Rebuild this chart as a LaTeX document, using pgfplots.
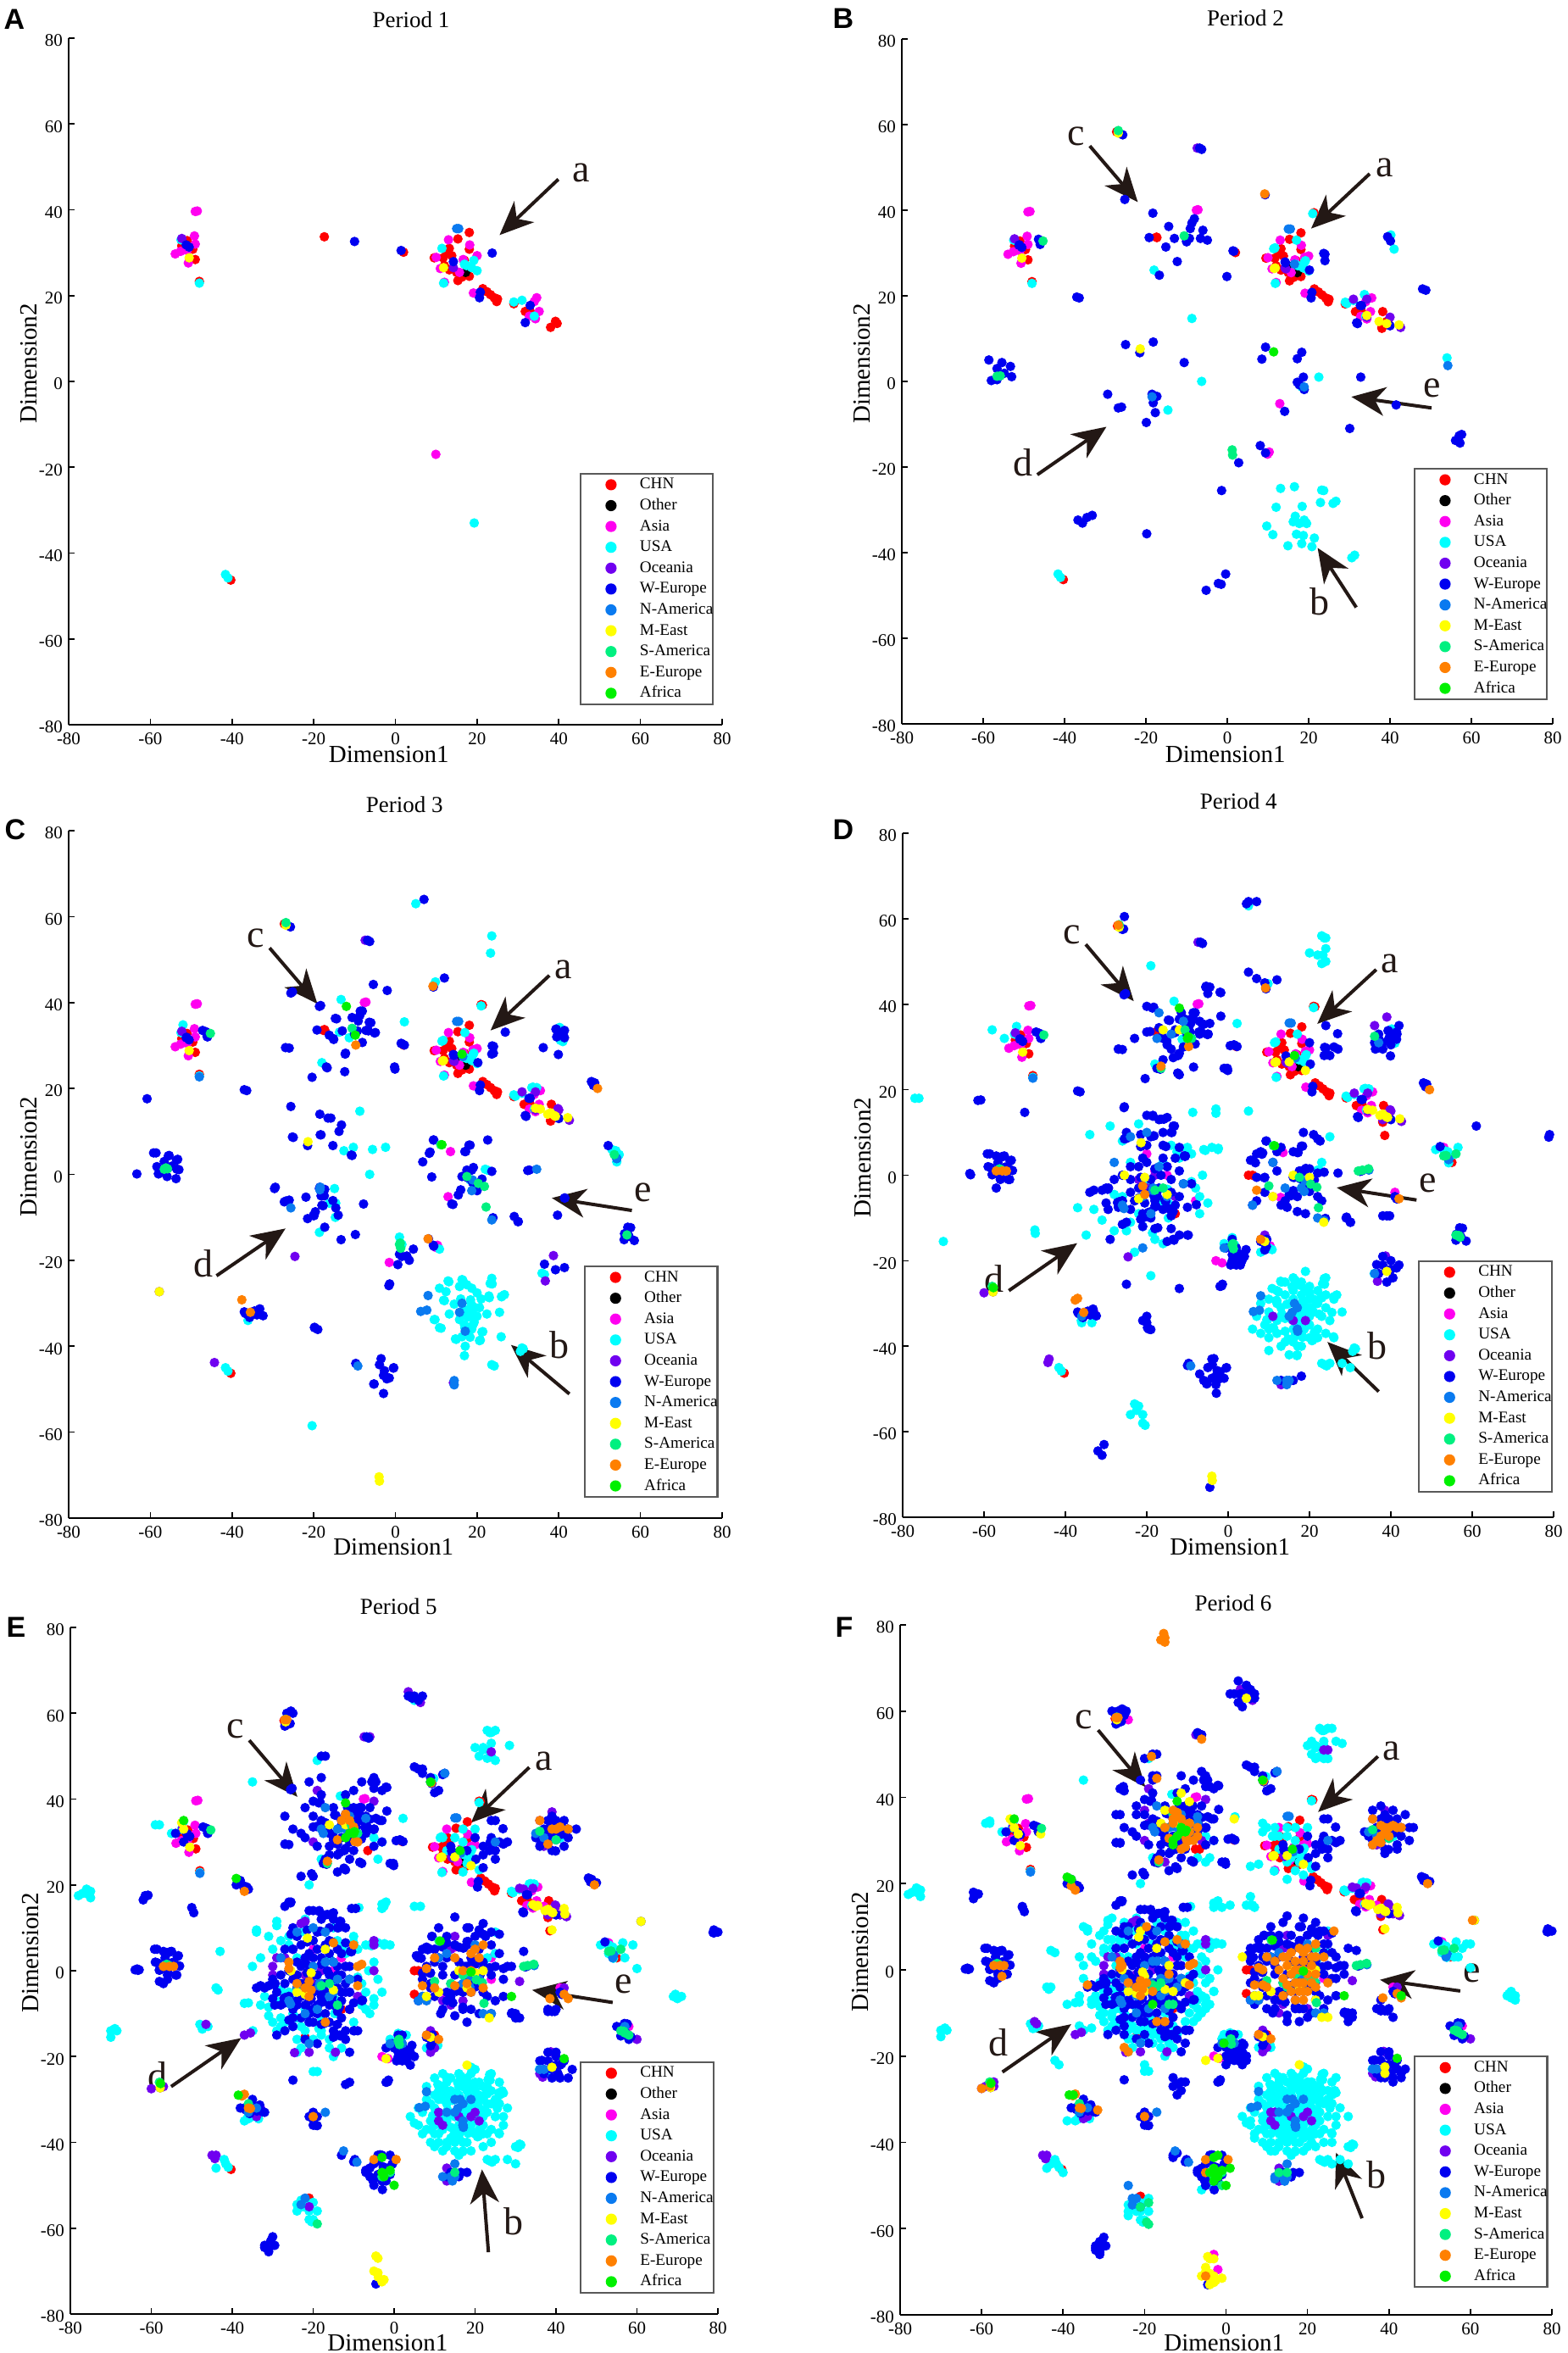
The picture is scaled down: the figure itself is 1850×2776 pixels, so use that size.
\documentclass[border=0pt]{standalone}
\usepackage{fontspec}
\setmainfont{Liberation Serif}
\newfontfamily\panelfont{Liberation Sans}
\usepackage{pgfplots}
\usepackage{pgfplotstable}
\pgfplotsset{compat=1.18}
\usetikzlibrary{arrows.meta}

\definecolor{cCHN}{HTML}{FF0000}
\definecolor{cOther}{HTML}{000000}
\definecolor{cAsia}{HTML}{FF00F0}
\definecolor{cUSA}{HTML}{00FFFF}
\definecolor{cOce}{HTML}{7000F0}
\definecolor{cWE}{HTML}{0000F0}
\definecolor{cNA}{HTML}{0A7AF0}
\definecolor{cME}{HTML}{FFFF00}
\definecolor{cSA}{HTML}{00F080}
\definecolor{cEE}{HTML}{FF8000}
\definecolor{cAf}{HTML}{00F000}
\definecolor{cAnno}{HTML}{231815}

% x y, p = first period in which the paper appears
\pgfplotstableread[row sep=\\]{x y p\\
-17.4 33.7 1\\2 30.1 1\\18.1 34.7 1\\15.3 33.2 1\\9.5 28.8 1\\11.7 28.8 1\\12.6 30 1\\13.2 31 1\\13.8 29.3 1\\12 27 1\\13.2 26 1\\15 25.4 1\\15.3 23.5 1\\18.1 24.5 1\\18.1 30.8 1\\16.3 24.3 1\\16.9 28.2 1\\
21.4 21.6 1\\22.4 20.9 1\\23.3 20.2 1\\24.2 19.5 1\\24.8 18.6 1\\25 19.2 1\\31.8 16.3 1\\29 18.1 1\\33 16.3 1\\39.2 14 1\\39.6 13.5 1\\38 12.6 1\\-49.6 30.8 1\\-52.3 31.6 1\\-51 32.8 1\\-49 28.4 1\\-48 23.3 1\\-50.5 31 1\\-40.3 -46.3 1\\
-17.3 33.6 2\\31.5 16.3 2\\38.2 16.3 2\\38 12.4 2\\21.3 39.4 2\\-27.2 58.3 2\\
21 39.5 3\\-17.6 33.5 3\\
5 0 4\\6 0 4\\-13 -9 4\\38.5 9.3 4\\55 3 4\\
-22 -15.5 5\\-6.5 28 5\\5 -5.5 5\\-21 -53 5\\-11 -9 5\\10 -15 5\\
-21 -16 6\\-7.5 28 6\\-21 -52.5 6\\
}\tCHN
\pgfplotstableread[row sep=\\]{x y p\\
17.2 25.4 1\\15 27 2\\
}\tOther
\pgfplotstableread[row sep=\\]{x y p\\
-49 39.6 1\\-48.5 39.7 1\\-49.2 33.9 1\\-49 32 1\\-53.9 29.7 1\\-52.6 30.3 1\\-50.7 27.6 1\\-51 30.5 1\\9.9 -17 1\\13 33 1\\18.2 31.8 1\\10 28.9 1\\20 29.3 1\\11 26.3 1\\16.6 28.4 1\\15.7 25.4 1\\19.1 20.6 1\\34.6 19.5 1\\34 18.6 1\\35.2 16.3 1\\34.3 14.6 1\\32.8 15.2 1\\12 23.1 1\\
-7.6 40 2\\-7.2 40.1 2\\12.9 -5.2 2\\35.5 19.5 2\\10.3 -16.5 2\\19 29 2\\
13.5 5.3 3\\-1.5 -20.5 3\\
-20 5 4\\-12 6 4\\-18 1 4\\-3 -20 4\\41 -4 4\\-8 -6 4\\-15 0 4\\11 -5 4\\53 6.5 4\\
24 3 5\\24 -2 5\\15 5.5 5\\-13 3 5\\37 15 5\\58 -13 5\\
-3 -66 6\\-2 -69.5 6\\-24 58 6\\
}\tAsia
\pgfplotstableread[row sep=\\]{x y p\\
-48 22.9 1\\11.4 31 1\\19.2 28.2 1\\16.9 27.3 1\\17.4 27 1\\18.7 26.5 1\\20 25.8 1\\11.8 22.9 1\\29 18.5 1\\31 18.9 1\\34 15.2 1\\-41.6 -45 1\\-41 -45.8 1\\19.3 -33 1\\-52.5 33 1\\
-18 26 2\\-8.7 14.7 2\\-6.3 0 2\\-14.6 -6.7 2\\22.5 1 2\\17 33 2\\11.7 31.2 2\\21 39.2 2\\40.2 34.2 2\\41 30.9 2\\33.7 20.3 2\\29.4 18.2 2\\54 5.5 2\\18.3 -1.3 2\\18.9 27.7 2\\
13.1 -25 2\\16.5 -24.6 2\\23.2 -25.4 2\\23.7 -25.5 2\\22.9 -28.3 2\\26 -28.5 2\\26.7 -28 2\\18.4 -29.2 2\\12 -29.4 2\\16.7 -31.5 2\\16.2 -32.8 2\\18.9 -32.4 2\\17.7 -33.2 2\\19.5 -33.2 2\\9.7 -33.8 2\\11.2 -35.8 2\\17 -35.7 2\\18.7 -36 2\\21.4 -36.6 2\\18.3 -37.9 2\\14.9 -38.4 2\\20.8 -38.6 2\\30.6 -41.2 2\\31.3 -40.6 2\\
5 63 3\\23.6 55.5 3\\23.3 51.5 3\\9.8 44.8 3\\2.2 35.5 3\\-13.3 40.7 3\\-13.7 33.1 3\\-11.3 31.8 3\\-12.6 5.5 3\\-10.3 6.3 3\\-5.6 5.8 3\\-2.4 6.3 3\\-14.9 -3.3 3\\-16.2 -6.7 3\\-14.7 -10 3\\-18.6 -13.5 3\\-52 34.8 3\\40.4 31.2 3\\33.4 20.2 3\\34.6 20.2 3\\35.9 -23 3\\36.5 -23.3 3\\1 -14.6 3\\1.6 -16.3 3\\10.8 -17.4 3\\53 5.8 3\\54.8 4.6 3\\54.2 2.9 3\\22 1.2 3\\-20.4 -58.5 3\\-36.1 -34 3\\31 -40.4 3\\23.6 -44.3 3\\24.2 -44.6 3\\
12.9 -24.8 3\\16.3 -24.5 3\\17.5 -25.7 3\\23.6 -24.2 3\\10.8 -26.5 3\\12.4 -27.3 3\\15.7 -26.1 3\\18.7 -26.5 3\\20 -27.6 3\\23 -28.7 3\\26 -28.4 3\\11.8 -29.3 3\\14.4 -30.2 3\\20.6 -31 3\\22.4 -32.5 3\\25.5 -32.1 3\\13.2 -32.5 3\\9.5 -33.8 3\\15.7 -33.8 3\\17.5 -31.6 3\\18.7 -32.7 3\\19.3 -34.4 3\\16.9 -35 3\\18.1 -36.1 3\\21.2 -36.7 3\\10.8 -35.7 3\\14.7 -38.3 3\\16.3 -37.8 3\\20.6 -38.7 3\\25.9 -37.8 3\\17.1 -40 3\\16.9 -42.2 3\\18.5 -30 3\\19.5 -31 3\\18 -33 3\\20 -33 3\\19 -35 3\\17 -32 3\\21 -29 3\\16 -29 3\\
-77 18 4\\-76 18 4\\-70 -15.5 4\\-58 34 4\\-55 32 4\\-47.5 -12.8 4\\-47.4 -13.6 4\\-34.9 -14 4\\-37 -7.6 4\\-33 -8 4\\-31 -10.5 4\\-28 -13 4\\-25 -13 4\\-34 9.5 4\\-29 11.5 4\\-26 8 4\\-22 12 4\\-23 -18 4\\-19 -23.5 4\\-21 -12 4\\-18 -15 4\\-16 -16 4\\-22 -9 4\\-14 7 4\\-10 6.5 4\\-9 5 4\\-6 6 4\\-4 6.5 4\\-2.5 6 4\\-3 15.5 4\\-3 14.5 4\\5 15 4\\-9 -1.5 4\\-8 -3 4\\-7 -5 4\\-5 -6.5 4\\-7 -9 4\\-24 -11 4\\-26 -5 4\\-28 -4.5 4\\-20 -2 4\\-16 3 4\\-24 3 4\\-12 4 4\\-19 49 4\\-22.5 -55 4\\-24 -56 4\\-22 -54 4\\-21 -56 4\\-21 -58 4\\-23 -53.5 4\\20 52 4\\23 56 4\\24 55.5 4\\23 49.5 4\\24 50 4\\24 53 4\\22 51.5 4\\25 9 4\\23 3 4\\51 6 4\\56.5 6.5 4\\-33.5 -34.5 4\\-36 -34.5 4\\8 -18 4\\10 -17 4\\-1 -16 4\\28 -44 4\\30 -45 4\\23 -44 4\\25 -44 4\\
10 -29 4\\12 -27 4\\14 -25 4\\16 -24 4\\18 -25 4\\20 -26 4\\22 -27 4\\24 -28 4\\26 -29 4\\19 -22.5 4\\24 -24 4\\8 -30 4\\10 -32 4\\12 -30 4\\14 -28 4\\16 -27 4\\18 -28 4\\20 -29 4\\22 -30 4\\24 -31 4\\7 -33 4\\9 -35 4\\11 -33 4\\13 -31 4\\15 -30 4\\17 -30.5 4\\19 -31 4\\21 -32 4\\23 -33 4\\25 -34 4\\6 -36 4\\8 -37 4\\10 -36 4\\12 -34 4\\14 -33.5 4\\16 -33 4\\18 -34 4\\20 -35 4\\22 -36 4\\24 -37 4\\10 -38 4\\12 -37 4\\14 -36.5 4\\16 -36 4\\18 -37 4\\20 -38 4\\22 -38 4\\14 -39 4\\16 -39 4\\18 -40 4\\15 -42 4\\17 -42 4\\10 -41 4\\26 -38 4\\13 -40 4\\28 -32 4\\
-35 44 5\\-75 17 5\\-76 19 5\\-78 17.5 5\\-75 18.5 5\\-59 34 5\\-69 -13.5 5\\-70 -14 5\\-68.5 -14 5\\-48 -12.5 5\\-46 -13 5\\-44 -4 5\\-43.5 -4.5 5\\-43 4.5 5\\-36 -7.5 5\\-35 1 5\\-34 9 5\\-31 8 5\\-29 10.5 5\\-21 20 5\\-24 -19 5\\-20 -23.5 5\\-2 16 5\\-2.5 15 5\\6.5 15 5\\-1 6 5\\-27 -12 5\\-30 -12 5\\-31 -8.5 5\\-25 -10 5\\-22 -14 5\\-13 -18 5\\-3 -5 5\\-10 -12 5\\-15 -20 5\\-23 -13 5\\-18 -14 5\\
25 56 5\\22 52 5\\28.5 52.5 5\\25 49 5\\21 50 5\\-5 31 5\\-3 30 5\\-4 26 5\\12 31 5\\15 31 5\\17 30 5\\13 28 5\\18 25 5\\21 23.5 5\\17 23 5\\20 33 5\\25 4 5\\53 6 5\\56 5 5\\59 6 5\\57 3 5\\53 4 5\\60 0.5 5\\69 -6 5\\70 -6.5 5\\71 -6 5\\69.5 -5.5 5\\-24 -54.5 5\\-20 -54 5\\-19 -56 5\\-20 -58 5\\-37 -35 5\\-35 -34 5\\-44 -46 5\\-42 -44 5\\30 -41 5\\3 -15 5\\37.5 -24 5\\
4 -34 5\\6 -32 5\\8 -27 5\\10 -25 5\\12 -24 5\\20 -23 5\\26 -26 5\\27 -28.5 5\\26 -31 5\\27 -34 5\\27 -36 5\\24 -40 5\\22 -41 5\\19 -42 5\\16 -43 5\\12 -42 5\\9 -40 5\\7 -38 5\\5 -35.5 5\\
11 -28 5\\13 -26 5\\15 -28.5 5\\17 -27 5\\19 -24 5\\21 -26 5\\23 -27 5\\25 -30 5\\9 -31 5\\11 -30 5\\13 -29 5\\15 -34 5\\17 -34 5\\19 -36 5\\21 -30 5\\23 -31 5\\9 -37 5\\11 -38 5\\13 -35 5\\15 -37 5\\17 -40 5\\19 -37 5\\21 -34 5\\22 -34 5\\23 -38 5\\13 -41 5\\15 -40 5\\11 -40 5\\
-28 7 5\\-33 3 5\\-30 5 5\\-26 6 5\\-23 9 5\\-15 10 5\\-10 8 5\\-7 6 5\\-5 2 5\\-4 -2 5\\-5 -8 5\\-8 -8 5\\-6 -10 5\\-32 -6 5\\-29 -7 5\\-25 -7 5\\-18 -11 5\\-14 -15 5\\-20 -16 5\\-16 -18 5\\-24 -16 5\\-28 -11 5\\-29 -14 5\\
-35 -2 6\\-36 3 6\\-33 6 6\\-30 9 6\\-28 12 6\\-25 11 6\\-14 11 6\\-10 11 6\\-8 9 6\\-4 5 6\\-2 0 6\\-3 -5 6\\-5 -9 6\\-7 -11 6\\-10 -14 6\\-14 -17 6\\-18 -17 6\\-23 -16 6\\-27 -13.5 6\\-30 -10 6\\-33 -7 6\\-36 -6 6\\-32 2 6\\-31 -3 6\\-28 5 6\\-26 7 6\\-30 4 6\\-29 -2 6\\-27 -6 6\\-27 -9 6\\-24 -12 6\\-21 -14 6\\-17 -15 6\\-13 -13 6\\-9 -10 6\\-7 -7 6\\-5 -3 6\\-7 1 6\\-8 5 6\\-11 8 6\\-15 9 6\\-20 8 6\\-24 7 6\\-35 10 6\\-20 -22 6\\-42 -21 6\\-41 -22 6\\-42 4 6\\-43 -4 6\\-36 -13 6\\-33 -13.5 6\\-39 -8 6\\-47 -13.5 6\\-58 34.5 6\\6 17 6\\6 15 6\\7 14.5 6\\-1 14.5 6\\1 15 6\\10 33 6\\9 34 6\\9 32 6\\6 24 6\\8 24.5 6\\15 21 6\\19 22 6\\
-32 -7 6\\-30 -5 6\\-28 -10 6\\-26 -9 6\\-25 -15 6\\-28 -2 6\\-26 3 6\\-29 7 6\\-25 9 6\\-21 10 6\\-17 11 6\\-12 11 6\\-6 3 6\\-6 -1 6\\-4 -2 6\\-6 -6 6\\-4 -8 6\\-8 -12 6\\-12 -15 6\\-15 -14 6\\-20 -13 6\\-24 -14 6\\-19 -11 6\\-15 -10 6\\-11 -9 6\\-9 -6 6\\-8 -1 6\\-10 3 6\\-13 7 6\\-18 6 6\\-22 6 6\\-27 1 6\\-24 -2 6\\-24 -7 6\\-21 -5 6\\
21 53 6\\26 56 6\\24 49 6\\27 53 6\\24 52 6\\22 49 6\\55 4 6\\58 5 6\\56 3 6\\60 6 6\\71 -7 6\\70 -5 6\\-22 -56 6\\-19 -53 6\\-24 -57 6\\-21 -54 6\\-3 -50.5 6\\-6 -51 6\\-43 -45 6\\-40 -47 6\\-39 -35 6\\-0.5 -15 6\\-0.5 -16 6\\11 -18 6\\30 -34 6\\26 -40 6\\26 -45 6\\6 -35 6\\7 -39 6\\11 -42 6\\20 -41 6\\25 -28 6\\27 -25 6\\13 -27 6\\15 -26 6\\17 -25 6\\19 -27 6\\21 -28 6\\23 -30 6\\11 -31 6\\13 -32 6\\15 -32 6\\17 -32 6\\19 -33 6\\21 -33 6\\23 -35 6\\11 -36 6\\13 -38 6\\15 -38 6\\17 -38 6\\19 -39 6\\21 -40 6\\9 -34 6\\15 -35 6\\19 -29 6\\20 -31 6\\16 -28 6\\18 -26 6\\15 25 6\\13 31 6\\15 33 6\\18 28 6\\16 26 6\\20 25 6\\12 33 6\\-7 26 6\\-5 25 6\\
}\tUSA
\pgfplotstableread[row sep=\\]{x y p\\
-52.3 33.3 1\\14.2 26.5 1\\
31 19.2 2\\34.3 19.2 2\\40 15 2\\42.6 12.6 2\\34.3 15 2\\14.4 26.3 2\\-7.4 54.5 2\\
-24.6 -19.1 3\\-44.3 -43.8 3\\38.7 -18.9 3\\36.7 -24.8 3\\-57.8 -27.3 3\\14.2 -48.5 3\\39.8 15.3 3\\
-44 -43 4\\-60 -27.5 4\\-33 -32 4\\11 -33 4\\16 -34 4\\19 -34 4\\-13 -5 4\\13 -49 4\\9 -14 4\\39 37 4\\36 35 4\\38 13 4\\-18 0 4\\-15 2 4\\-20 -3 4\\-22 -1 4\\
3.5 65 5\\6.5 62.5 5\\24 51 5\\-19 42 5\\-5 39.5 5\\-20 30 5\\-9 -6 5\\-11 -5 5\\-23 11 5\\-22 11.5 5\\-5 7 5\\-5 6 5\\-30 1 5\\-30 -1 5\\-29 3 5\\-5 0 5\\-21 -19 5\\-14.5 -19 5\\-25 5 5\\-27 3 5\\-12 1 5\\-37 -15 5\\-35.5 -14.5 5\\-46.5 -12.5 5\\-45 -43 5\\-57 -27 5\\-34 -34 5\\10 -18 5\\9 -19 5\\9 -14.5 5\\11 -35 5\\12 -36 5\\20 -33 5\\21 -35 5\\17 -36 5\\13 -46 5\\36 -24 5\\15 8 5\\10 5 5\\14 5 5\\12 -7 5\\14 -8 5\\17 -7 5\\19 -3 5\\31 -2.5 5\\60 -16 5\\42 -4 5\\32 19 5\\41 13 5\\37 29 5\\-6 54.5 5\\-21 -55 5\\
-19 34 6\\-15 25 6\\-20 37 6\\-6 30 6\\10 -6 6\\13 -10 6\\20 -9 6\\8 -7 6\\25 8 6\\-57 -26 6\\-59 -27 6\\-47 -12 6\\-35 -34.5 6\\12 -33 6\\25 51 6\\
}\tOce
\pgfplotstableread[row sep=\\]{x y p\\
-10 32.6 1\\1.4 30.5 1\\23.7 29.9 1\\14.2 27.9 1\\20.8 20.8 1\\20.6 19.5 1\\33 17.7 1\\31.8 13.7 1\\-51.2 31.8 1\\-50.5 31.3 1\\
-25.2 42.5 2\\-18.3 39.3 2\\-14.4 36.2 2\\-19.2 33.6 2\\-13 33.4 2\\-15.1 31.4 2\\-12.3 28 2\\-16.7 24.8 2\\-8.7 37 2\\-8.1 38 2\\-9.1 35.7 2\\-9.3 33.4 2\\-6.6 33.4 2\\-6 35.3 2\\-4.9 33 2\\-10 32.8 2\\-25.7 57.6 2\\-6.8 54.5 2\\-6.3 54.2 2\\-0.1 24.5 2\\1.6 30.4 2\\-37 19.7 2\\-36.4 19.5 2\\14.3 27.7 2\\24 29.7 2\\24 28.2 2\\20.2 26 2\\39.4 33.8 2\\40.1 32.8 2\\48 21.6 2\\48.8 21.3 2\\32.7 17.7 2\\32 13.5 2\\40 13 2\\9.3 43.6 2\\
-58.6 5 2\\-55.4 4.4 2\\-56.6 3 2\\-53.3 3.5 2\\-53 1.1 2\\-58 0.2 2\\-56.6 0.4 2\\-54.8 1.9 2\\-51.1 31.9 2\\-46.4 33.2 2\\-46 32 2\\-25 8.6 2\\-21.5 6.7 2\\-18.2 9.2 2\\-10.6 4.4 2\\-29.4 -3 2\\-26.8 -6.2 2\\-26 -6 2\\-18.5 -3 2\\-17.3 -3.5 2\\-18.2 -5 2\\-17.7 -7.3 2\\-19.9 -9.6 2\\9.4 8 2\\8.5 5.2 2\\18.3 6.8 2\\17.2 5.3 2\\32.8 1 2\\17.2 -0.2 2\\18.7 1 2\\17.7 -0.8 2\\18.9 -1.9 2\\14.1 -7 2\\41.5 -5.5 2\\30.1 -11 2\\57 -12.7 2\\57.6 -12.4 2\\56.1 -13.8 2\\57.2 -14.4 2\\8.1 -15 2\\9.4 -16.7 2\\2.8 -19 2\\-1.4 -25.5 2\\-36.7 -32.4 2\\-35.6 -33.1 2\\-34.5 -31.8 2\\-33.2 -31.3 2\\-19.8 -35.6 2\\-5.2 -48.8 2\\-2.2 -47.2 2\\-1.5 -47.4 2\\-0.4 -45 2\\
7 64 3\\12 45.7 3\\-2 42.8 3\\-5.4 44.2 3\\-18.6 39.1 3\\-25.6 42.2 3\\-14.7 36.3 3\\-10.6 36.5 3\\-8.6 38 3\\-6.4 35.4 3\\-7.2 33.5 3\\-5.1 32.9 3\\-15.2 31.6 3\\-16.2 32.4 3\\-8.1 30.7 3\\-26 29.4 3\\-26.9 29.5 3\\-12.2 28.2 3\\-16.9 25 3\\-20.4 22.6 3\\-12.4 23.9 3\\2.2 30.1 3\\-0.2 25 3\\-25.6 15.8 3\\-18.5 14 3\\-16.5 13.1 3\\-15.8 13.1 3\\-13.2 11.5 3\\-13.8 10 3\\-18.4 9.2 3\\-25.2 8.7 3\\-15.3 6.7 3\\-10.8 4.5 3\\-60.8 17.6 3\\-63.3 0.1 3\\-59.2 5 3\\-55.6 4.3 3\\-53.6 3.3 3\\-58.4 1.8 3\\-58 0.1 3\\-55.9 -0.5 3\\-53.7 -1 3\\-53.5 1.2 3\\
-29.6 -3.3 3\\-27.2 -6.4 3\\-21.9 -5.3 3\\-18.6 -3.3 3\\-17.4 -5 3\\-15.3 -6.1 3\\-14.6 -7.8 3\\-14 -9.5 3\\-18 -7.2 3\\-19.6 -8.7 3\\-20.1 -9.6 3\\-21.5 -10.3 3\\-17.3 -12.3 3\\-13.3 -15.2 3\\-9.8 -14 3\\-7.8 -6.9 3\\6.7 2.9 3\\8.3 4.9 3\\9.3 8 3\\18 6.8 3\\17 5.3 3\\22.6 8 3\\8.9 -0.6 3\\19.1 1.6 3\\17.5 1 3\\16.3 -0.5 3\\20 -3.8 3\\16 -3.6 3\\15.4 -4.8 3\\13.8 -6.9 3\\23.6 0.7 3\\21.2 -1.1 3\\32.4 0.9 3\\23.9 -10.1 3\\29.1 -9.8 3\\30 -11 3\\39.7 -9.5 3\\41.4 -5.5 3\\56.9 -12.3 3\\58.5 -15.4 3\\56 -15.2 3\\36.5 -20.9 3\\41.4 -21.7 3\\39.2 -22.2 3\\1 -18.6 3\\1.6 -19.1 3\\0.6 -21 3\\3.4 -20 3\\4.4 -17.4 3\\9.3 -16.5 3\\-1.6 -25.9 3\\-37 -32 3\\-35.7 -33.3 3\\-33.9 -32.7 3\\-32.4 -32.9 3\\-33.4 -31.6 3\\-19.8 -35.7 3\\-19 -36.1 3\\-9.7 -44 3\\-3.5 -42.9 3\\-3.9 -44.3 3\\-0.5 -45.1 3\\-2.7 -45.7 3\\-2.1 -47.6 3\\-2.9 -46.8 3\\-5.3 -48.8 3\\-2.9 -51 3\\39.3 33.8 3\\41.4 33.5 3\\39.5 32 3\\41.4 31.8 3\\36.2 29.5 3\\39.9 27.9 3\\26.9 33.1 3\\24 29.8 3\\23.6 28 3\\48.1 21.5 3\\48.5 20.7 3\\52.1 6.7 3\\54.2 3.7 3\\-47.2 33.5 3\\-46.1 32.1 3\\
-20 14 4\\-18.5 13.8 4\\-17 13 4\\-15 13.5 4\\-13.5 11.5 4\\-14 10 4\\-25.5 16 4\\-25 10 4\\-25.5 8.5 4\\-21.5 9.5 4\\-19 9 4\\-16 10 4\\-16 7 4\\-20 7 4\\-12 6.5 4\\-10.5 4.5 4\\-16 4 4\\-13 4 4\\-21 4 4\\-24 2 4\\-22 2 4\\-20 3 4\\-18 1.5 4\\-15 2 4\\-12 1 4\\-26 0 4\\-24 -1 4\\-21.5 -0.5 4\\-19 -1 4\\-16.5 0 4\\-14 -1 4\\-11 -2 4\\-9 -2 4\\-28 -1 4\\-30 -3 4\\-33 -3.5 4\\-34 -4 4\\-31 -3.5 4\\-24 -4 4\\-22 -3 4\\-19 -4 4\\-17 -3 4\\-14 -4 4\\-12 -5 4\\-26 -6 4\\-23 -6 4\\-20.5 -6.5 4\\-18 -6 4\\-15.5 -6 4\\-13 -7 4\\-10 -7.5 4\\-30 -6.5 4\\-29.5 -8 4\\-27 -7.5 4\\-24 -8 4\\-21 -9 4\\-19 -8.5 4\\-16 -8 4\\-13.5 -8.5 4\\-21 -10 4\\-19 -10 4\\-26 -11.5 4\\-18 -12.5 4\\-14 -12.5 4\\-12 -14 4\\-13.5 -15 4\\-15 -15.5 4\\-10 -14 4\\-29 -15 4\\-25 -11 4\\-21 -12 4\\-25 -25.5 4\\-12 -26.5 4\\
-20 39.5 4\\-5.5 44 4\\-4.5 44 4\\-5 42.5 4\\-1.8 42.7 4\\-12 36.5 4\\-17 34.5 4\\-20 33.5 4\\-23 32 4\\-16 32 4\\-15 30.5 4\\-14 29.5 4\\-11 30 4\\-9 31.5 4\\-7 33 4\\-5 33 4\\-4.5 35.5 4\\-7 36 4\\-11.5 38 4\\-1.8 37.2 4\\-12 28.5 4\\-13.5 27.5 4\\-16 27 4\\-17.5 25 4\\-12 23.5 4\\-8.5 25.3 4\\-27 29.5 4\\-1 25 4\\0.5 30.3 4\\-11 34 4\\-13 34 4\\-9.5 35 4\\
4.5 63.5 4\\5 64 4\\5 47.5 4\\7 46 4\\9 45 4\\24 35 4\\26 30 4\\27 29.5 4\\20 31 4\\25 28 4\\40 33 4\\37 32 4\\38 31 4\\40 32 4\\41.5 33 4\\42 35 4\\37 33 4\\40 30.5 4\\38 29.5 4\\36 31 4\\-25.5 60.5 4\\-26 57.5 4\\-61.5 17.5 4\\-50 14.7 4\\61 11.5 4\\79 9.5 4\\78.8 8.9 4\\
-57 4.5 4\\-55 4.5 4\\-59 2 4\\-56 -1 4\\-54 -1 4\\-57 -3 4\\-63.5 0.4 4\\5.5 3.5 4\\6 3.5 4\\7 5 4\\8 5.5 4\\12 5.5 4\\13 6.5 4\\16 5.5 4\\18.5 10 4\\21 9.5 4\\22 8.5 4\\11 3 4\\12 1 4\\7 -0.5 4\\9 -0.5 4\\16 -0.5 4\\18 1 4\\20 1.5 4\\22 0.5 4\\19 -3 4\\17 -5 4\\15 -4.5 4\\14 -6 4\\13 -7 4\\14.5 -7.5 4\\17 -8.5 4\\19 -9 4\\7 -6 4\\6 -7 4\\22 -5 4\\23 -6 4\\9 -4 4\\27 0.5 4\\29 -10 4\\38 -9.5 4\\39 -9.5 4\\41 -5 4\\
-0.5 -17 4\\1 -15 4\\2 -17 4\\3 -18.5 4\\1 -20 4\\2 -21 4\\3 -21 4\\4 -19 4\\-2 -26 4\\8 -15.5 4\\9.5 -15 4\\9 -17.5 4\\-21 -34 4\\-20 -34.5 4\\-19.5 -36 4\\-20 -33 4\\-10 -44.5 4\\-4 -43 4\\-5 -45 4\\-2 -46 4\\-1 -47.5 4\\-4 -47.5 4\\-6 -48 4\\-3 -49 4\\-7 -46.5 4\\-32 -64.5 4\\-30.5 -63 4\\-31 -65.5 4\\-4.5 -73 4\\18 -47 4\\16 -48 4\\13 -48 4\\40 -20 4\\38 -21 4\\40 -22 4\\42 -21 4\\37 -23 4\\39 -25 4\\38 -19 4\\40.5 -24 4\\
-27 5 5\\-25 5 5\\-23 6 5\\-21 1 5\\-19 5 5\\-17 6 5\\-14 5 5\\-25 -2 5\\-23 1 5\\-20 -1 5\\-17 2 5\\-15 -2 5\\-13 -1 5\\-11 1 5\\-24 -7 5\\-22 -8 5\\-20 -5 5\\-17 -5 5\\-15 -8 5\\-13 -5 5\\-11 -5 5\\-27 -3 5\\-29 -5 5\\-30 -2 5\\-32 -4 5\\-28 -8 5\\-25 -9 5\\-23 -11 5\\-20 -12 5\\-17 -10 5\\-13 -11 5\\-11 -9 5\\-15 -14 5\\-19 -17 5\\-25 -13 5\\-27 -14 5\\-22 -16 5\\-12 -16 5\\-9 -14 5\\-8 -7 5\\-11 -19 5\\-27 15 5\\-26 16 5\\-21 14 5\\-18 12 5\\-15 12 5\\-12 10 5\\-10.5 14.5 5\\-9.5 14.5 5\\-24 8 5\\-22 3 5\\-18 3 5\\-16 -1 5\\-18 -3 5\\-21 -3 5\\-23 -3 5\\-14 1 5\\-12 -3 5\\-19 -8 5\\-16 -12 5\\-21 -7 5\\
15 12.5 5\\11 10 5\\13 8 5\\18 10 5\\20 8 5\\22 11 5\\24 9 5\\26 8.5 5\\10 5 5\\12 6 5\\15 6 5\\18 6 5\\21 5 5\\24 6 5\\26 4 5\\6 3 5\\8 1 5\\10 2 5\\13 3 5\\16 2 5\\19 3 5\\22 2 5\\25 1 5\\28 1 5\\7 -2 5\\9 -3 5\\12 -1 5\\15 -1 5\\18 -1 5\\21 -1 5\\24 -1 5\\27 -2 5\\10 -6 5\\13 -5 5\\16 -4 5\\19 -5 5\\22 -5 5\\25 -7 5\\27 -6 5\\12 -9 5\\17 -9 5\\11.5 -10 5\\18 -12 5\\15 -10.5 5\\21 -10 5\\24 -10 5\\32 4.5 5\\30 -10 5\\31 -11 5\\29 1 5\\38 -9 5\\40 -9 5\\
-27 36 5\\-25 33 5\\-22 38 5\\-18 41 5\\-15 38 5\\-12 41 5\\-10 42 5\\-20 36 5\\-18 35 5\\-13 35 5\\-10 38 5\\-8 35 5\\-6 38 5\\-3 35 5\\-22 31 5\\-19 29 5\\-16 29 5\\-13 31 5\\-10 31 5\\-7 32 5\\-5 29 5\\-3 30 5\\-17 26 5\\-14 23 5\\-11 26 5\\-8 25 5\\-20 22 5\\-23 22 5\\-18 45 5\\-17 50 5\\-18 50 5\\-8 44 5\\-5 45 5\\-3 42 5\\-21 44 5\\-10 28 5\\-14 27 5\\-3.5 35 5\\
4 64 5\\6 63 5\\3.5 64 5\\7 47 5\\6 47 5\\9 44 5\\11 42 5\\12.5 46 5\\10 41.5 5\\-26.5 58 5\\-25 60 5\\-27 57 5\\-26.5 60 5\\25 35 5\\24 31 5\\28 30 5\\22 29 5\\25 26 5\\22 27 5\\22 24 5\\14 29 5\\18 28 5\\35 31 5\\39 31 5\\41 32 5\\43 33 5\\45 33 5\\38 35 5\\40 35 5\\39 36 5\\36 29 5\\42 29 5\\39 28 5\\43 31 5\\38 33 5\\-62 16.5 5\\-61 17.5 5\\-49.5 13.5 5\\-39 20 5\\-38 21 5\\-37 19 5\\-36 19 5\\-64 0.2 5\\-63 0.2 5\\-58 -2.5 5\\-56 -2 5\\50 20.5 5\\80 9 5\\79 8.8 5\\-30 -62 5\\-32 -64 5\\-31 -65 5\\-29.5 -64 5\\-20 -36 5\\-19 -34 5\\-13 -43 5\\-4 -48 5\\-6 -46 5\\-5 -50 5\\-2 -49 5\\-3 -43 5\\-7 -47 5\\-1 -43 5\\14 -47 5\\16.5 -47 5\\36 -21 5\\40 -19 5\\44 -23 5\\37 -24 5\\41 -25 5\\39 -23 5\\41 -22 5\\43 -25 5\\2 -15 5\\0 -18 5\\-2 -18 5\\3 -20 5\\1 -19 5\\5 -20 5\\4 -22 5\\-11 -26 5\\55 -13 5\\58 -16 5\\-38 -32 5\\-35 -30 5\\-32 -33 5\\-54 32 5\\-52 30 5\\
-27 9 6\\-24 10 6\\-21 11 6\\-18 8 6\\-14 8 6\\-11 6 6\\-9 3 6\\-8 -1 6\\-10 -4 6\\-26 -1 6\\-23 -2 6\\-20 2 6\\-17 4 6\\-15 0 6\\-12 3 6\\-13 -3 6\\-17 -3 6\\-20 -5 6\\-24 -5 6\\-26 -4 6\\-23 -8 6\\-20 -10 6\\-17 -7 6\\-14 -6 6\\-12 -8 6\\-16 -14 6\\-20 -15 6\\-25 -15 6\\-10 -17 6\\
6 5 6\\8 7 6\\11 8 6\\14 11 6\\19 12 6\\23 9 6\\25 6 6\\27 3 6\\29 -1 6\\30 5 6\\27 -6 6\\24 -9 6\\20 -11 6\\15 -12 6\\10 -9 6\\7 -8 6\\6 -3 6\\6 2 6\\9 3 6\\12 6 6\\16 8 6\\20 8 6\\24 4 6\\26 -2 6\\12 -7 6\\18 -9 6\\22 -7 6\\31 -10 6\\30 -12 6\\38 -7 6\\37 -9 6\\41 -11 6\\
4 63 6\\2 64 6\\3 67 6\\5 66 6\\6 65 6\\7 63 6\\4 61 6\\3 62 6\\1 64 6\\-27 59 6\\-25 59 6\\-28 60 6\\-24.5 60 6\\-7 55 6\\-6 54.5 6\\-18 50 6\\-20 49 6\\-25 41.5 6\\-26 42 6\\-18 44 6\\-17 45 6\\-11 45 6\\-6 46 6\\-4 42.5 6\\-26 36 6\\-26 29.5 6\\-22 36 6\\34 32 6\\36 37 6\\38 38 6\\41 37 6\\44 36 6\\46 33 6\\45 30 6\\42 28 6\\39 27 6\\36 30 6\\-62 18 6\\-50 14.5 6\\-30 -64 6\\-31 -66 6\\-32 -65 6\\-31 -63 6\\-11 -28 6\\-13 -27 6\\-10 -26 6\\-12 -29 6\\-13 -25 6\\-13 -43.5 6\\-12 -42.5 6\\0 -20 6\\5 -21 6\\4 -17 6\\0 -22 6\\38 -25 6\\41 -26 6\\43 -24 6\\42 -23 6\\
}\tWE
\pgfplotstableread[row sep=\\]{x y p\\
15 35.6 1\\15.5 35.6 1\\
18.9 -1.3 2\\16.5 27.4 2\\54.2 3.7 2\\-18.5 -3.6 2\\
16.3 -30 3\\15.7 -32.1 3\\17.1 -36.5 3\\8 -28.2 3\\6.2 -31.9 3\\7.7 -31.6 3\\14.4 -48 3\\14.4 -49 3\\-9.2 -44.6 3\\23.6 -10.6 3\\18.7 -3.8 3\\-25.6 -7.8 3\\-18.4 -3 3\\-48 22.7 3\\34.6 1.2 3\\
-24 9 4\\-20 10 4\\-17 2 4\\-15 -5 4\\-26 -7 4\\-21 -17 4\\-28 3 4\\-11 -2 4\\-17.5 32 4\\-14 33 4\\-17 38 4\\-11 36 4\\14 -3 4\\18 -3 4\\22 -10 4\\15 -48 4\\12 -48 4\\17 -31 4\\15 -33 4\\17 -36 4\\-36 -33 4\\-21 -5 4\\-19 -9 4\\-1 -17 4\\11 3 4\\6 -7 4\\37 31 4\\36 -23 4\\
15 -30 5\\19 -30 5\\13 -33 5\\17 -35 5\\15 -45 5\\14 -48 5\\-12.5 -42 5\\-22 -53 5\\-23 -54.5 5\\-17 -33 5\\-14 -2 5\\-20 1 5\\-16 -6 5\\-24 -4 5\\-17 9 5\\-22 -10 5\\-15 2 5\\-18 33 5\\-12 33 5\\-7 35.5 5\\20 6 5\\13 4 5\\17 -3 5\\21 -2 5\\24 -10 5\\8 -7 5\\7 -6 5\\35 32 5\\37 -23 5\\12.5 46 5\\25 30 5\\54 3 5\\57 -13 5\\-34 -32 5\\2 -17 5\\
-20 -2 6\\-16 -2 6\\-18 2 6\\-22 -6 6\\-12 -4 6\\-25 -2 6\\-15 -9 6\\-11 6 6\\10 3 6\\15 3 6\\22 -3 6\\-15 37 6\\-7 34 6\\-24 -50 6\\-23 -53 6\\12 -48.5 6\\
}\tNA
\pgfplotstableread[row sep=\\]{x y p\\
11.8 26.5 1\\-50.5 28.8 1\\
-21.4 7.6 2\\34.3 15.4 2\\37.3 14 2\\39.2 13.5 2\\42.2 13.2 2\\11.5 26.4 2\\-26.8 58 2\\
-57.8 -27.3 3\\-4 -70.4 3\\-3.9 -71.4 3\\35.5 15.2 3\\38 14.3 3\\38.9 13.7 3\\
-25.5 0 4\\-20.5 -0.5 4\\-22 -5.5 4\\-15 -4.5 4\\-16 34 4\\-12 34 4\\16 0 4\\20 -0.5 4\\11 -5 4\\23.5 -11 4\\9 -15.5 4\\39 -22.5 4\\15 26.5 4\\19 24.5 4\\
-52.5 34.5 5\\-52 33 5\\-17 5 5\\-24 -5 5\\-10 33 5\\8 -6 5\\18 -4 5\\22 0 5\\18 -22 5\\-4.5 -66.5 5\\-4 -67 5\\-5 -70 5\\-3 -72.5 5\\-2.5 -72 5\\61 11.5 5\\-2 -20.5 5\\35 15 5\\42 14.5 5\\39 9.5 5\\
-53 35 6\\-51 31.5 6\\-45.5 31.5 6\\-3 -67 6\\-5 -69 6\\-6 -71 6\\-3 -71 6\\-1 -71.5 6\\-4 -73 6\\-21 9 6\\-14 1 6\\-10 -3 6\\-20 -5 6\\-20 -1.5 6\\-20.5 -4 6\\-13 -5 6\\-11 41 6\\-9 39 6\\-15 37 6\\-9 34 6\\5 63 6\\2 35 6\\-5 -21 6\\4 3 6\\22 -7 6\\25 -11 6\\7 -6 6\\11 -5 6\\39 -24 6\\
}\tME
\pgfplotstableread[row sep=\\]{x y p\\
-26.8 58.6 2\\-10.6 34 2\\-45.3 32.8 2\\-55.8 1.3 2\\-56.6 1.2 2\\1.2 -16 2\\1.3 -17.2 2\\
11.1 6.9 3\\17.5 -0.5 3\\20.3 -2.1 3\\21.8 -2.8 3\\22.2 -7.6 3\\1 -16.3 3\\56.7 -14.1 3\\53.6 4.6 3\\-56.2 1.5 3\\
-16.5 25 4\\-9 32 4\\-18 -3.5 4\\10 -2.5 4\\32 1 4\\33 1.2 4\\34.5 1.5 4\\36 32.5 4\\53 4.5 4\\56 -14 4\\57 -14.5 4\\56 5 4\\-58 -26 4\\-16 -3 4\\
14 -3 5\\17 -1 5\\15 -47 5\\-19 -59 5\\-3 -48 5\\40 30.5 5\\-36 -31 5\\-14 -8 5\\58 -15 5\\-1 -47 5\\
-19 -54 6\\-21 -55 6\\-19.5 -58.5 6\\-13 -8 6\\-17 -4 6\\15 -4 6\\22 5 6\\13 -47 6\\-1 -50 6\\-15 33 6\\-13 36 6\\
}\tSA
\pgfplotstableread[row sep=\\]{x y p\\
9.2 43.8 2\\
-9.7 30.1 3\\8 -15 3\\-37.6 -29.2 3\\-35.5 -32.1 3\\49.5 20 3\\
-27 58.5 4\\-16.5 25.5 4\\-21 -2.5 4\\-20.5 -4.5 4\\7 -3.5 4\\-37 -28.8 4\\-55.5 1 4\\-57 1 4\\-54.5 1 4\\42 -5.5 4\\
-26 2 5\\-26 0.5 5\\-24 -3 5\\-22 -4 5\\-21 -6 5\\-10 6 5\\-17 -12 5\\-9 -3.5 5\\-9 1 5\\-8 1.5 5\\-15 6.5 5\\10 3 5\\10 -4 5\\15 3 5\\18 -3 5\\15 -3.5 5\\19 4 5\\20 5 5\\21 3 5\\22 6 5\\19 0 5\\17 0 5\\19 -5 5\\22 -4 5\\8 0.5 5\\-13 35 5\\-12 36.5 5\\-11 35 5\\-10 33.5 5\\-14 30.5 5\\-9 30 5\\-26.5 58.5 5\\40 33 5\\41 33.5 5\\36 35 5\\39 33 5\\38 29.5 5\\43 33 5\\-36 -32 5\\-20 -34 5\\-5 -44 5\\0.5 -44 5\\11 -16 5\\38.5 -6.5 5\\43 -6.5 5\\-37 18.5 5\\
-15.5 76.5 6\\-15 77 6\\-15 76 6\\-16 76.5 6\\-15.3 78 6\\-6 53.5 6\\-18.3 49.5 6\\-17 44.4 6\\-13 37 6\\-12 36 6\\-13 34 6\\-9 34 6\\-9 32 6\\-10 31 6\\-8 30 6\\-7 33 6\\-15 33 6\\-7 31 6\\-11 28 6\\-10 28.5 6\\39 32 6\\38 31 6\\37 30 6\\36 29 6\\42 33 6\\38 33.5 6\\40 31 6\\60.5 11.5 6\\
12 2 6\\14 3 6\\16 4 6\\18 5 6\\22 3 6\\24 3 6\\13 0 6\\15 1 6\\17 2 6\\19 2 6\\21 1 6\\14 -2 6\\16 -1 6\\18 0 6\\20 -1 6\\22 -1 6\\17 -3 6\\19 -3 6\\21 -3 6\\14 -6 6\\16 -5 6\\18 -5 6\\20 -5 6\\17 -7 6\\19 -7 6\\9 -3.5 6\\9 0 6\\25 -3 6\\26.5 9 6\\
-25.5 1 6\\-19.5 -3 6\\-18 -5 6\\-14 -1 6\\-34 -3.5 6\\-15 -12 6\\-12 7 6\\-19.5 10 6\\-24 -19 6\\-25 -18 6\\-55 -1.5 6\\-31.5 -32.5 6\\-5 -47 6\\-5 -71 6\\-58 -27 6\\-60 -27.5 6\\-38 19.5 6\\
}\tEE
\pgfplotstableread[row sep=\\]{x y p\\
11.4 6.9 2\\
-12 39.1 3\\-9.8 32.4 3\\16.3 28 3\\
-57.7 -26.3 4\\-10 32 4\\
-38.5 -29 5\\-39 21.5 5\\-11 32 5\\-12 31 5\\-52 35 5\\19 -0.3 5\\-2.5 -48 5\\-3 -47 5\\-1 -46.5 5\\0 -50 5\\-3 -43.5 5\\29 -6 5\\9 44 5\\42 -20.5 5\\
-38 21 6\\-11 33 6\\-13 30 6\\-13 29 6\\-0.5 -17 6\\-3 -46 6\\-4 -47 6\\-3 -49 6\\-2 -48 6\\-2 -43 6\\1 -46 6\\43 -6 6\\-37.5 -29 6\\-18 -8 6\\
}\tAf

\newcommand\layer[3]{\addplot[forget plot,only marks,mark=*,mark size=2.6pt,color=#1,restrict expr to domain={\thisrow{p}}{0:#3}] table[x=x,y=y] {#2};}
\newcommand\period[1]{%
  \layer{cCHN}{\tCHN}{#1}\layer{cOther}{\tOther}{#1}\layer{cAsia}{\tAsia}{#1}\layer{cUSA}{\tUSA}{#1}%
  \layer{cOce}{\tOce}{#1}\layer{cWE}{\tWE}{#1}\layer{cNA}{\tNA}{#1}\layer{cME}{\tME}{#1}%
  \layer{cSA}{\tSA}{#1}\layer{cEE}{\tEE}{#1}\layer{cAf}{\tAf}{#1}}
\newcommand\legentry[2]{\addlegendimage{color=#1}\addlegendentry{#2}}
\newcommand\legendall{%
  \legentry{cCHN}{CHN}\legentry{cOther}{Other}\legentry{cAsia}{Asia}\legentry{cUSA}{USA}%
  \legentry{cOce}{Oceania}\legentry{cWE}{W-Europe}\legentry{cNA}{N-America}\legentry{cME}{M-East}%
  \legentry{cSA}{S-America}\legentry{cEE}{E-Europe}\legentry{cAf}{Africa}}
% tail x, tail y, tip x, tip y, letter, letter x, letter y
\newcommand\anno[7]{%
  \draw[cAnno,line width=2pt,-{Stealth[length=20pt,width=17pt,inset=6pt]}] (axis cs:#1,#2) -- (axis cs:#3,#4);
  \node[cAnno,font=\fontsize{23}{23}\selectfont] at (axis cs:#6,#7) {#5};}

\pgfplotsset{
  panel/.style={
    scale only axis, clip=false,
    xmin=-80, xmax=80, ymin=-80, ymax=80,
    xtick={-80,-60,...,80}, ytick={-80,-60,...,80},
    axis x line=bottom, axis y line=left, axis line style={-,line width=1pt},
    tick align=inside, major tick length=3.5pt, tick style={black,line width=.8pt},
    /pgf/number format/assume math mode=true,
    tick label style={font=\fontsize{10.5}{12}\selectfont},
    xticklabel style={yshift=-1pt},
    yticklabel style={yshift=-1.5pt},
    xlabel={Dimension1}, ylabel={Dimension2},
    label style={font=\fontsize{14.5}{16}\selectfont},
    ylabel style={at={(axis description cs:-.061,.526)},anchor=center,rotate=0},
    every axis title shift=0pt,
    title style={font=\fontsize{13.5}{15}\selectfont,anchor=center},
    legend image code/.code={\fill[##1,draw=none] (18pt,0) circle (3.3pt); \path[draw=none,fill=none] (0,-3pt) rectangle (35pt,3pt);},
    legend cell align=left,
    legend style={anchor=north west,draw=black!65,line width=1.1pt,inner xsep=0pt,inner ysep=2pt,
      font=\fontsize{9.6}{12}\selectfont,row sep=3.3pt,
      nodes={inner sep=0pt,text height=7pt,text depth=2pt}},
  },
}

\begin{document}
\begin{tikzpicture}[x=.5pt,y=.5pt]
\path[use as bounding box] (0,0) rectangle (1850,2776);
\node[font=\panelfont\bfseries\fontsize{17}{17}\selectfont] at (17,2753) {A};
\node[font=\panelfont\bfseries\fontsize{17}{17}\selectfont] at (995,2754) {B};
\node[font=\panelfont\bfseries\fontsize{17}{17}\selectfont] at (18,1797) {C};
\node[font=\panelfont\bfseries\fontsize{17}{17}\selectfont] at (995,1797) {D};
\node[font=\panelfont\bfseries\fontsize{17}{17}\selectfont] at (19,856) {E};
\node[font=\panelfont\bfseries\fontsize{17}{17}\selectfont] at (996,856) {F};

\begin{axis}[panel,at={(40.5pt,960.5pt)},anchor=south west,width=385.5pt,height=405pt,
  title={Period 1},title style={at={(axis description cs:.524,1.027)}},
  xlabel style={at={(axis description cs:.49,-.043)},anchor=center},
  legend style={at={(axis cs:45.1,-21.3)}}]
\period{1}
\legendall
\anno{39.9}{47.1}{25.5}{34.1}{a}{45.4}{48.6}
\end{axis}

\begin{axis}[panel,at={(532pt,961pt)},anchor=south west,width=384pt,height=404pt,
  title={Period 2},title style={at={(axis description cs:.528,1.031)}},
  xlabel style={at={(axis description cs:.497,-.045)},anchor=center},
  legend style={at={(axis cs:45.8,-20.2)}}]
\period{2}
\legendall
\anno{35}{48.5}{20.6}{35.7}{a}{38.7}{49.9}
\anno{31.7}{-52.8}{22.2}{-38.9}{b}{22.8}{-51.4}
\anno{-33.8}{55}{-22}{41.9}{c}{-37.1}{57.3}
\anno{-46.7}{-21.8}{-29.7}{-10.6}{d}{-50.2}{-19}
\anno{50.2}{-6.2}{30.5}{-3.6}{e}{50.4}{-1.5}
\end{axis}

\begin{axis}[panel,at={(40.5pt,492.5pt)},anchor=south west,width=385.5pt,height=405.5pt,
  title={Period 3},title style={at={(axis description cs:.514,1.038)}},
  xlabel style={at={(axis description cs:.497,-.042)},anchor=center},
  legend style={at={(axis cs:46.2,-21.2)}}]
\period{3}
\legendall
\anno{37.7}{46.3}{23.3}{33.5}{a}{41.1}{47.6}
\anno{42.6}{-51.1}{28.3}{-39.7}{b}{40.1}{-39.8}
\anno{-30.8}{52.7}{-19.1}{39.7}{c}{-34.3}{55}
\anno{-43.8}{-23.6}{-26.9}{-12.6}{d}{-47.1}{-20.8}
\anno{57.9}{-8.4}{38.3}{-5.5}{e}{60.6}{-4.2}
\end{axis}

\begin{axis}[panel,at={(532.5pt,493pt)},anchor=south west,width=384pt,height=403.5pt,
  title={Period 4},title style={at={(axis description cs:.516,1.047)}},
  xlabel style={at={(axis description cs:.503,-.043)},anchor=center},
  legend style={at={(axis cs:46.7,-19.9)}}]
\period{4}
\legendall
\anno{36.4}{48.1}{21.9}{35.4}{a}{39.8}{49.5}
\anno{37}{-50.6}{24.4}{-39}{b}{36.7}{-39.9}
\anno{-35}{54}{-23.2}{40.7}{c}{-38.5}{56.3}
\anno{-53.9}{-27}{-37.1}{-15.9}{d}{-57.6}{-24.2}
\anno{46.3}{-5.8}{26.7}{-2.9}{e}{49}{-1.8}
\end{axis}

\begin{axis}[panel,at={(41.5pt,23pt)},anchor=south west,width=382pt,height=405pt,
  title={Period 5},title style={at={(axis description cs:.507,1.03)}},
  xlabel style={at={(axis description cs:.49,-.042)},anchor=center},
  legend style={at={(axis cs:45.9,-21.1)}}]
\period{5}
\legendall
\anno{33.4}{47.4}{19}{34.5}{a}{36.9}{48.8}
\anno{23.3}{-65.6}{21.7}{-46.3}{b}{29.5}{-58.4}
\anno{-35.8}{53.7}{-23.9}{40.5}{c}{-39.2}{56.3}
\anno{-55.1}{-27}{-37.8}{-15.7}{d}{-58.5}{-24.4}
\anno{54}{-7.4}{34.1}{-4.5}{e}{56.7}{-3.2}
\end{axis}

\begin{axis}[panel,at={(531pt,22.5pt)},anchor=south west,width=384.5pt,height=407pt,
  title={Period 6},title style={at={(axis description cs:.511,1.031)}},
  xlabel style={at={(axis description cs:.497,-.041)},anchor=center},
  legend style={at={(axis cs:46.1,-19.9)}}]
\period{6}
\legendall
\anno{37.3}{49.5}{22.6}{36.6}{a}{40.7}{50.8}
\anno{33.4}{-57.6}{27}{-42.4}{b}{37}{-47.6}
\anno{-31.4}{55.6}{-19.8}{42.4}{c}{-34.9}{58.1}
\anno{-54.9}{-23.7}{-38}{-12.6}{d}{-55.8}{-16.9}
\anno{57.5}{-4.9}{37.8}{-2.3}{e}{60.3}{-0.8}
\end{axis}
\end{tikzpicture}
\end{document}
